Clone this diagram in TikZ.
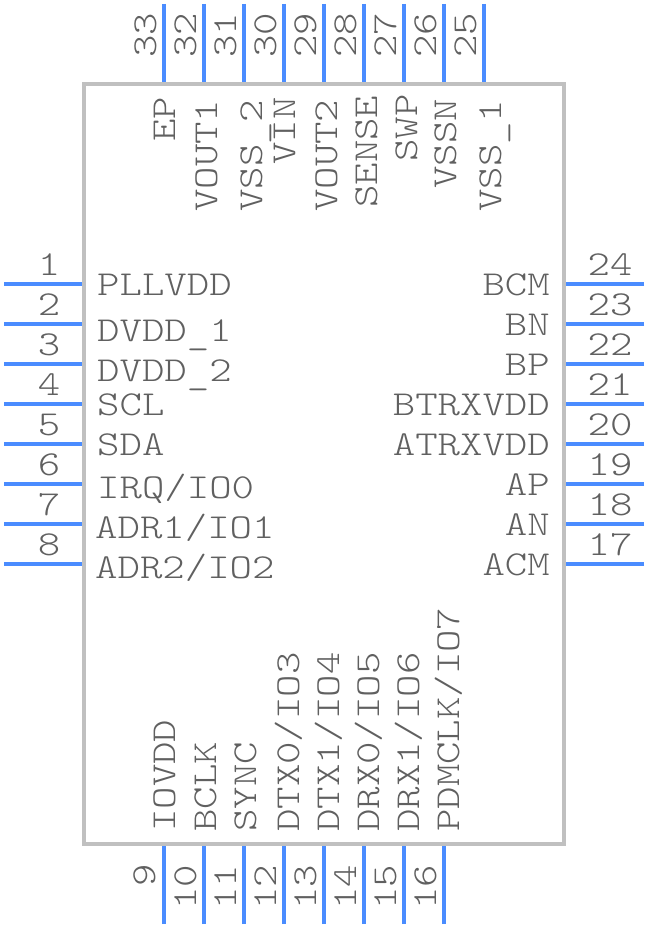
\documentclass[tikz,border=0pt]{standalone}
\usepackage{fontspec}
\setmonofont[FakeStretch=1.22]{Latin Modern Mono Light}
\definecolor{pinblue}{HTML}{4A8CFF}
\definecolor{bodygray}{HTML}{C0C0C0}
\definecolor{txtgray}{HTML}{606060}
\newcommand{\slh}{/}
\newcommand{\usc}{\raisebox{-3pt}{\_}}
\tikzset{
  pinline/.style={draw=pinblue,line width=4pt},
  pkg/.style={draw=bodygray,line width=4pt,minimum width=480pt,minimum height=760pt,inner sep=0pt},
  lab/.style={inner sep=0pt,text=txtgray,font=\fontsize{35}{35}\selectfont\ttfamily},
  hl/.style={lab,anchor=base west},
  hr/.style={lab,anchor=base east},
  vl/.style={lab,anchor=base west,rotate=90},
}
\begin{document}
\begin{tikzpicture}[x=1pt,y=-1pt]
\useasboundingbox (0,0) rectangle (648,928);
\node[pkg] (ic) at (324,464) {};
% left pins
\foreach \n/\y/\nm/\nx/\ny in {1/284/PLLVDD/97/295,2/324/DVDD\usc 1/97/341,3/364/DVDD\usc 2/97/381,4/404/SCL/97/415,5/444/SDA/97/455,6/484/IRQ\slh IO0/97/498,7/524/ADR1\slh IO1/95/538,8/564/ADR2\slh IO2/95/578}{
  \coordinate (p\n) at (4,\y);
  \draw[pinline] (p\n) -- (p\n -| ic.west);
  \node[lab,anchor=base] (num\n) at (49,\y-9) {\n};
  \node[hl] (name\n) at (\nx,\ny) {\nm};
}
% right pins
\foreach \n/\y/\nm/\ny in {24/284/BCM/295,23/324/BN/335,22/364/BP/375,21/404/BTRXVDD/415,20/444/ATRXVDD/455,19/484/AP/495,18/524/AN/535,17/564/ACM/575}{
  \coordinate (p\n) at (644,\y);
  \draw[pinline] (p\n) -- (p\n -| ic.east);
  \node[lab,anchor=base] (num\n) at (610,\y-9) {\n};
  \node[hr] (name\n) at (550,\ny) {\nm};
}
% top pins
\foreach \n/\x/\nm/\nx/\ny in {33/164/EP/175/142,32/204/VOUT1/217/212,31/244/VSS\usc 2/262/212,30/284/VIN/295/165,29/324/VOUT2/337/212,28/364/SENSE/377/208,27/404/SWP/417/162,26/444/VSSN/456/189,25/484/VSS\usc 1/501/212}{
  \coordinate (p\n) at (\x,4);
  \draw[pinline] (p\n) -- (p\n |- ic.north);
  \node[vl] (num\n) at (\x-8,58) {\n};
  \node[vl] (name\n) at (\nx,\ny) {\nm};
}
% bottom pins
\foreach \n/\x/\nm/\nx/\ny in {9/164/IOVDD/175/832,10/204/BCLK/216/832,11/244/SYNC/256/832,12/284/DTX0\slh IO3/299/832,13/324/DTX1\slh IO4/339/832,14/364/DRX0\slh IO5/379/832,15/404/DRX1\slh IO6/419/832,16/444/PDMCLK\slh IO7/459/832}{
  \coordinate (p\n) at (\x,924);
  \draw[pinline] (p\n) -- (p\n |- ic.south);
  \node[vl] (name\n) at (\nx,\ny) {\nm};
}
\foreach \n/\x/\y in {9/155/887,10/196/910,11/236/910,12/276/910,13/316/910,14/356/910,15/396/910,16/436/910}{
  \node[vl] (num\n) at (\x,\y) {\n};
}
\end{tikzpicture}
\end{document}
